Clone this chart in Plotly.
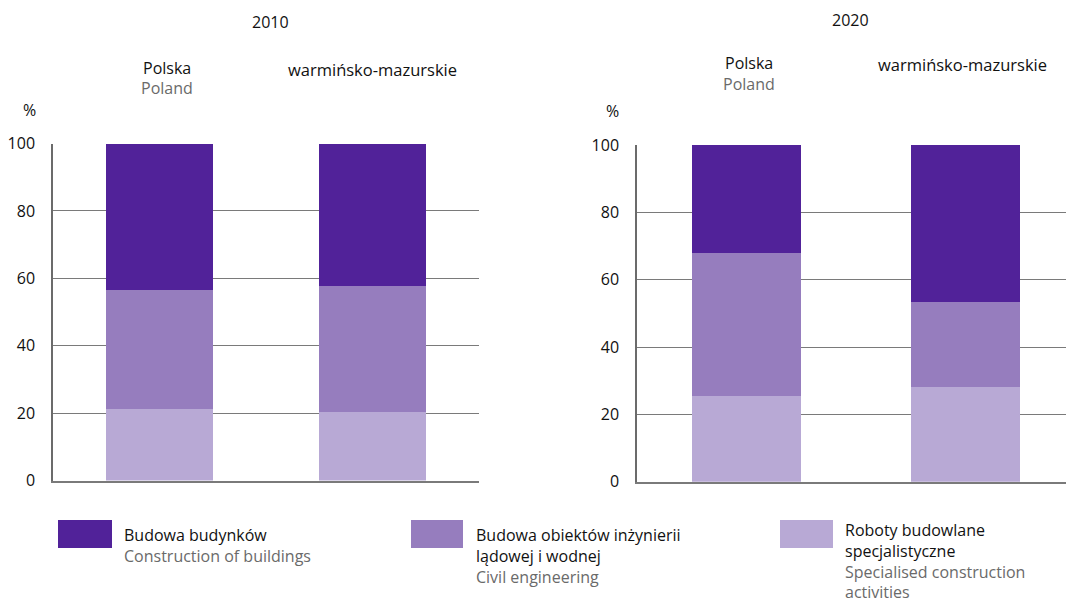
import plotly.graph_objects as go

years = ["2010", "2020"]
regions = ["Polska", "warmińsko-mazurskie"]
series_pl = ["Roboty budowlane<br>specjalistyczne", "Budowa obiektów inżynierii<br>lądowej i wodnej", "Budowa budynków"]
series_en = ["Specialised construction<br>activities", "Civil engineering", "Construction of buildings"]
colors = ["#B8A9D5", "#967DBE", "#512299"]

# values per year: [Polska, warmińsko-mazurskie]
specialised = {"2010": [21.3, 20.3], "2020": [25.5, 28.2]}
civil = {"2010": [35.1, 37.4], "2020": [42.4, 25.2]}
buildings = {"2010": [43.6, 42.3], "2020": [32.1, 46.6]}
yticks = [0, 20, 40, 60, 80, 100]

W, H = 1066, 602
FONT = "Open Sans"
GREY = "#6a6a6a"

fig = go.Figure()
data_sets = [specialised, civil, buildings]
for pi, yr in enumerate(years):
    xa = "x" if pi == 0 else "x2"
    ya = "y" if pi == 0 else "y2"
    for si, ds in enumerate(data_sets):
        fig.add_trace(go.Bar(
            x=[0, 1], y=ds[yr], width=0.5, marker=dict(color=colors[si], line=dict(width=0)),
            xaxis=xa, yaxis=ya, showlegend=False, name=series_en[si].replace("<br>", " "),
        ))

def px_x(p):
    return p / W

def px_y(p):
    return 1 - p / H

axis_y_common = dict(range=[0, 100], tickvals=yticks, showgrid=True, gridcolor="#7a7a7a", gridwidth=1,
                     showline=True, linecolor="#6b6b6b", linewidth=1.5, zeroline=False,
                     tickfont=dict(family=FONT, size=16, color="#111111"), ticklabelstandoff=13,
                     automargin=False)
axis_x_common = dict(showticklabels=False, showgrid=False, zeroline=False, showline=True,
                     linecolor="#7a7a7a", linewidth=1.5, ticks="", automargin=False)

fig.update_layout(
    width=W, height=H, margin=dict(l=0, r=0, t=0, b=0, pad=0, autoexpand=False),
    paper_bgcolor="white", plot_bgcolor="white", barmode="stack",
    font=dict(family=FONT),
    xaxis=dict(domain=[px_x(53), px_x(479)], range=[-0.5, 1.5], anchor="y", **axis_x_common),
    yaxis=dict(domain=[px_y(480.5), px_y(143.5)], anchor="x", **axis_y_common),
    xaxis2=dict(domain=[px_x(637), 1.0], range=[-0.5, 1.459], anchor="y2", **axis_x_common),
    yaxis2=dict(domain=[px_y(481.7), px_y(145)], anchor="x2", **axis_y_common),
)

ann = []
def txt(x, y, s, color="#111111", size=16, xanchor="center", yanchor="middle"):
    ann.append(dict(x=x / W, y=1 - y / H, xref="paper", yref="paper", text=s, showarrow=False,
                    xanchor=xanchor, yanchor=yanchor, align="left" if xanchor == "left" else "center",
                    font=dict(family=FONT, size=size, color=color)))

# panel titles
txt(270, 22, years[0])
txt(850, 20, years[1])
# category labels
txt(167, 68, regions[0]); txt(167, 88, "Poland", color=GREY)
txt(372, 70, regions[1], size=16.5)
txt(749, 63, regions[0]); txt(749, 84, "Poland", color=GREY)
txt(962, 65, regions[1], size=16.5)
# percent
txt(29, 110, "%")
txt(612, 111, "%")

# legend
shapes = []
leg = [(58, 112, 122, 521.5), (411, 463, 474, 521.5), (780, 833, 843, 517.0)]
order = [2, 1, 0]
for (x0, x1, tx, top), si in zip(leg, order):
    shapes.append(dict(type="rect", xref="paper", yref="paper", x0=x0 / W, x1=x1 / W,
                       y0=1 - 548 / H, y1=1 - 520 / H, fillcolor=colors[si], line=dict(width=0)))
    block = series_pl[si] + "<br>" + "<br>".join(
        f"<span style='color:{GREY}'>{l}</span>" for l in series_en[si].split("<br>"))
    txt(tx, top, block, xanchor="left", yanchor="top", size=16)

fig.update_layout(annotations=ann, shapes=shapes)
fig.write_html("out.html", config={"displayModeBar": False},
               post_script="document.body.style.margin='0px';")
